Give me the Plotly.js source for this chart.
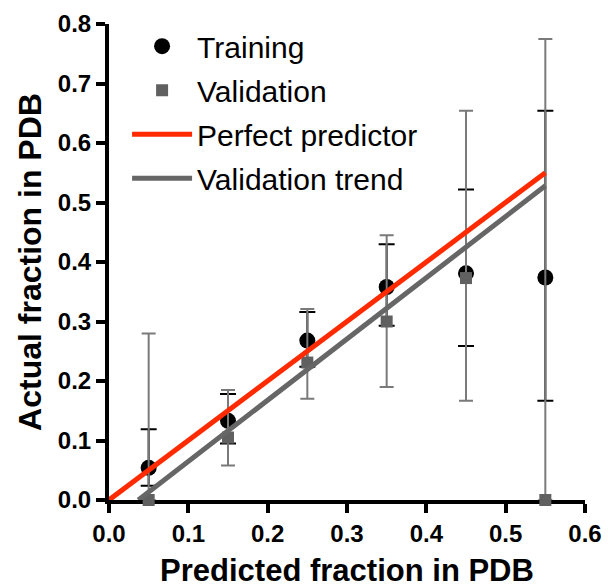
<!DOCTYPE html>
<html><head><meta charset="utf-8">
<script src="https://cdn.plot.ly/plotly-3.0.1.min.js"></script>
<style>html,body{margin:0;padding:0;background:#fff}</style>
</head><body><div id="chart" style="width:608px;height:588px"></div>
<script>
var binX = [0.05, 0.15, 0.25, 0.35, 0.45, 0.55];
var trainingY = [0.054, 0.133, 0.268, 0.358, 0.381, 0.374];
var trainingErrPlus = [0.065, 0.045, 0.048, 0.072, 0.141, 0.280];
var trainingErrMinus = [0.030, 0.038, 0.044, 0.065, 0.122, 0.207];
var validationY = [0.0, 0.105, 0.231, 0.300, 0.373, 0.0];
var validationErrPlus = [0.280, 0.080, 0.090, 0.145, 0.281, 0.775];
var validationErrMinus = [0.0, 0.047, 0.061, 0.110, 0.206, 0.0];
var perfectX = [0.0, 0.55];
var perfectY = [0.0, 0.55];
var trendX = [0.037, 0.55];
var trendY = [0.0, 0.528];
var xTicks = [0, 0.1, 0.2, 0.3, 0.4, 0.5, 0.6];
var xTickText = ['0.0','0.1','0.2','0.3','0.4','0.5','0.6'];
var yTicks = [0, 0.1, 0.2, 0.3, 0.4, 0.5, 0.6, 0.7, 0.8];
var yTickText = ['0.0','0.1','0.2','0.3','0.4','0.5','0.6','0.7','0.8'];

var F = '"Liberation Sans", Arial, Helvetica, sans-serif';
var traces = [
  {x: binX, y: trainingY, type: 'scatter', mode: 'markers', name: 'Training', legendgroup: 'a',
   marker: {symbol: 'circle', size: 16, color: '#000'}, cliponaxis: false,
   error_y: {type: 'data', symmetric: false, array: trainingErrPlus, arrayminus: trainingErrMinus,
             color: '#000', thickness: 2, width: 8}},
  {x: binX, y: validationY, type: 'scatter', mode: 'markers', name: 'Validation', legendgroup: 'b',
   marker: {symbol: 'square', size: 12, color: '#606060'}, cliponaxis: false,
   error_y: {type: 'data', symmetric: false, array: validationErrPlus, arrayminus: validationErrMinus,
             color: '#7a7a7a', thickness: 2, width: 7}},
  {x: perfectX, y: perfectY, type: 'scatter', mode: 'lines', name: 'Perfect predictor', legendgroup: 'c',
   line: {color: '#ff2a00', width: 5}},
  {x: trendX, y: trendY, type: 'scatter', mode: 'lines', name: 'Validation trend', legendgroup: 'd',
   line: {color: '#666666', width: 5}}
];
var layout = {
  width: 608, height: 588,
  margin: {l: 109, r: 23, t: 24, b: 88},
  paper_bgcolor: '#fff', plot_bgcolor: '#fff',
  font: {family: F, color: '#000'},
  showlegend: true,
  legend: {x: 0.038, y: 1.008, xanchor: 'left', yanchor: 'top', bgcolor: 'rgba(0,0,0,0)',
           font: {size: 30, family: F, color: '#000'}, tracegroupgap: 2, itemwidth: 60},
  xaxis: {range: [0, 0.6], tickvals: xTicks, ticktext: xTickText, showgrid: false, zeroline: false,
          showline: true, linecolor: '#000', linewidth: 4, ticks: 'outside', ticklen: 9, tickwidth: 4,
          tickcolor: '#000', tickfont: {size: 24, family: F, weight: 'bold'}, layer: 'below traces',
          title: {text: '<b>Predicted fraction in PDB</b>', font: {size: 31, family: F}, standoff: 19}},
  yaxis: {range: [0, 0.8], tickvals: yTicks, ticktext: yTickText, showgrid: false, zeroline: false,
          showline: true, linecolor: '#000', linewidth: 4, ticks: 'outside', ticklen: 9, tickwidth: 4,
          tickcolor: '#000', tickfont: {size: 24, family: F, weight: 'bold'}, layer: 'below traces',
          title: {text: '<b>Actual fraction in PDB</b>', font: {size: 32, family: F}, standoff: 8}}
};
Plotly.newPlot('chart', traces, layout, {displayModeBar: false, staticPlot: true});
</script></body></html>
